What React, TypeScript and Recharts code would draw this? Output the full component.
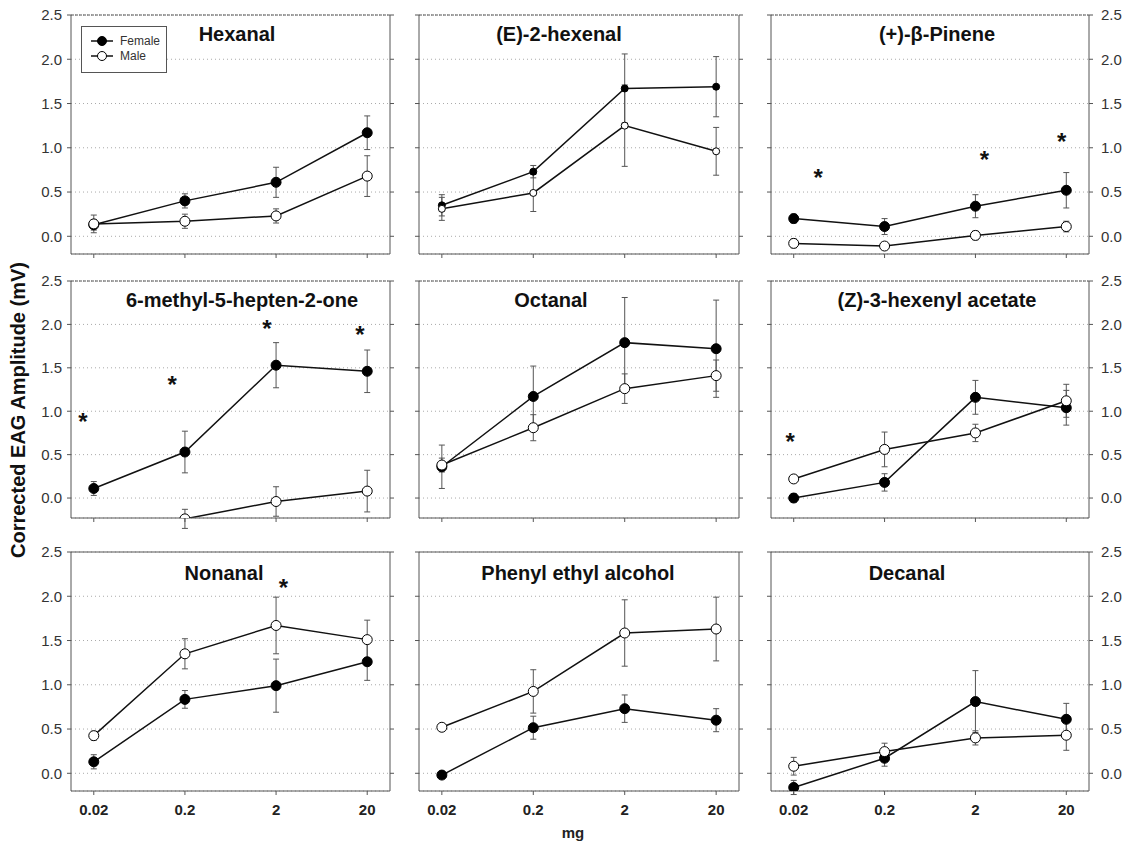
import React from "react";
import { ComposedChart, Line, ErrorBar, XAxis, YAxis, CartesianGrid, ReferenceLine, Scatter } from "recharts";

const doses = ["0.02", "0.2", "2", "20"];
const yTicks = [0, 0.5, 1, 1.5, 2, 2.5];

// mean corrected EAG (mV) and SE, per compound, dose order as above
const hexanalFemale = [0.13, 0.40, 0.61, 1.17];
const hexanalFemaleSE = [0.06, 0.08, 0.17, 0.19];
const hexanalMale = [0.14, 0.17, 0.23, 0.68];
const hexanalMaleSE = [0.10, 0.08, 0.08, 0.23];

const hexenalFemale = [0.35, 0.73, 1.67, 1.69];
const hexenalFemaleSE = [0.12, 0.07, 0.39, 0.34];
const hexenalMale = [0.31, 0.49, 1.25, 0.96];
const hexenalMaleSE = [0.13, 0.21, 0.46, 0.27];

const pineneFemale = [0.20, 0.11, 0.34, 0.52];
const pineneFemaleSE = [0.05, 0.09, 0.13, 0.20];
const pineneMale = [-0.08, -0.11, 0.01, 0.11];
const pineneMaleSE = [0.05, 0.03, 0.05, 0.06];
const pineneStars = [{ x: 0.27, y: 0.71 }, { x: 2.1, y: 0.92 }, { x: 2.95, y: 1.12 }];

const methylFemale = [0.11, 0.53, 1.53, 1.46];
const methylFemaleSE = [0.08, 0.24, 0.26, 0.245];
const methylMale = [null, -0.24, -0.04, 0.08];
const methylMaleSE = [null, 0.11, 0.17, 0.24];
const methylStars = [{ x: -0.12, y: 0.93 }, { x: 0.86, y: 1.36 }, { x: 1.9, y: 2.01 }, { x: 2.92, y: 1.94 }];

const octanalFemale = [0.36, 1.17, 1.79, 1.72];
const octanalFemaleSE = [0.25, 0.35, 0.52, 0.56];
const octanalMale = [0.38, 0.81, 1.26, 1.41];
const octanalMaleSE = [0.08, 0.15, 0.17, 0.18];

const hexenylFemale = [0.0, 0.18, 1.16, 1.04];
const hexenylFemaleSE = [0.05, 0.10, 0.195, 0.20];
const hexenylMale = [0.22, 0.56, 0.75, 1.12];
const hexenylMaleSE = [0.03, 0.20, 0.10, 0.19];
const hexenylStars = [{ x: -0.04, y: 0.70 }];

const nonanalFemale = [0.13, 0.835, 0.99, 1.26];
const nonanalFemaleSE = [0.08, 0.10, 0.30, 0.21];
const nonanalMale = [0.425, 1.35, 1.67, 1.51];
const nonanalMaleSE = [0.05, 0.17, 0.32, 0.22];
const nonanalStars = [{ x: 2.08, y: 2.15 }];

const pheFemale = [-0.02, 0.515, 0.73, 0.60];
const pheFemaleSE = [0.03, 0.13, 0.155, 0.13];
const pheMale = [0.52, 0.925, 1.585, 1.63];
const pheMaleSE = [0.02, 0.245, 0.375, 0.36];

const decanalFemale = [-0.16, 0.17, 0.81, 0.61];
const decanalFemaleSE = [0.08, 0.09, 0.35, 0.18];
const decanalMale = [0.08, 0.245, 0.40, 0.43];
const decanalMaleSE = [0.10, 0.095, 0.08, 0.17];

const panels = [
  { title: "Hexanal", f: hexanalFemale, fe: hexanalFemaleSE, m: hexanalMale, me: hexanalMaleSE, stars: [] },
  { title: "(E)-2-hexenal", f: hexenalFemale, fe: hexenalFemaleSE, m: hexenalMale, me: hexenalMaleSE, stars: [], small: true },
  { title: "(+)-β-Pinene", f: pineneFemale, fe: pineneFemaleSE, m: pineneMale, me: pineneMaleSE, stars: pineneStars },
  { title: "6-methyl-5-hepten-2-one", f: methylFemale, fe: methylFemaleSE, m: methylMale, me: methylMaleSE, stars: methylStars },
  { title: "Octanal", f: octanalFemale, fe: octanalFemaleSE, m: octanalMale, me: octanalMaleSE, stars: [] },
  { title: "(Z)-3-hexenyl acetate", f: hexenylFemale, fe: hexenylFemaleSE, m: hexenylMale, me: hexenylMaleSE, stars: hexenylStars },
  { title: "Nonanal", f: nonanalFemale, fe: nonanalFemaleSE, m: nonanalMale, me: nonanalMaleSE, stars: nonanalStars },
  { title: "Phenyl ethyl alcohol", f: pheFemale, fe: pheFemaleSE, m: pheMale, me: pheMaleSE, stars: [] },
  { title: "Decanal", f: decanalFemale, fe: decanalFemaleSE, m: decanalMale, me: decanalMaleSE, stars: [] },
];

// layout (pixel positions of each plot area)
const COLS = [{ x: 71, w: 319 }, { x: 419, w: 320 }, { x: 771, w: 318 }];
const ROWS = [{ y: 15, h: 239, min: -0.2 }, { y: 281, h: 237, min: -0.23 }, { y: 552, h: 239, min: -0.2 }];
const TITLE_CX = [237, 559, 937, 242, 551, 937, 224, 578, 907];
const YL = 50, YR = 50, MT = 10, XB = 40;
const FONT = "'Liberation Sans', Arial, sans-serif";
const AX = "#555";

const Empty = () => <g />;

const Star = (p: any) => (
  <text x={p.cx} y={p.cy + 13} textAnchor="middle" fontSize={24} fontWeight="bold" fill="#111" fontFamily={FONT}>*</text>
);

function Panel({ idx }: { idx: number }) {
  const p = panels[idx];
  const row = Math.floor(idx / 3), col = idx % 3;
  const R = ROWS[row], C = COLS[col];
  const data = doses.map((d, i) => ({ x: i, f: p.f[i], fe: p.fe[i], m: p.m[i], me: p.me[i] }));
  const r = p.small ? 3.5 : 5;
  const tickFont = { fontSize: 15, fill: "#333", fontFamily: FONT };
  return (
    <div style={{ position: "absolute", left: C.x - YL, top: R.y - MT }}>
      <ComposedChart width={YL + C.w + YR} height={MT + R.h + XB} data={data} margin={{ top: MT, right: 0, bottom: 0, left: 0 }}>
        <CartesianGrid yAxisId="l" vertical={false} stroke="#aaa" strokeDasharray="1 3" />
        <XAxis
          type="number" dataKey="x" domain={[-0.25, 3.25]} ticks={[0, 1, 2, 3]} allowDataOverflow interval={0}
          tickFormatter={(i) => doses[i]} height={XB} tickSize={4} tickMargin={9}
          axisLine={{ stroke: AX }} tickLine={{ stroke: AX }}
          tick={row === 2 ? { fontSize: 15, fill: "#222", fontWeight: "bold", fontFamily: FONT } : <Empty />}
        />
        <YAxis
          yAxisId="l" type="number" domain={[R.min, 2.5]} ticks={yTicks} allowDataOverflow width={YL}
          tickFormatter={(v) => v.toFixed(1)} tickSize={4} tickMargin={5}
          axisLine={{ stroke: AX }} tickLine={{ stroke: AX }}
          tick={col === 0 ? tickFont : <Empty />}
        />
        <YAxis
          yAxisId="r" orientation="right" type="number" domain={[R.min, 2.5]} ticks={yTicks} allowDataOverflow width={YR}
          tickFormatter={(v) => v.toFixed(1)} tickSize={4} tickMargin={8}
          axisLine={{ stroke: AX }} tickLine={{ stroke: AX }}
          tick={col === 2 ? { ...tickFont, textAnchor: "start" } : <Empty />}
        />
        <ReferenceLine yAxisId="l" y={2.5} stroke={AX} strokeDasharray={row < 2 ? "3 1" : undefined} />
        <Line yAxisId="l" dataKey="f" stroke="#111" strokeWidth={1.5} isAnimationActive={false}
          dot={{ r, fill: "#000", stroke: "#000", strokeWidth: 1 }} activeDot={false}>
          <ErrorBar dataKey="fe" direction="y" width={3} stroke="#555" strokeWidth={1} />
        </Line>
        <Line yAxisId="l" dataKey="m" stroke="#111" strokeWidth={1.5} isAnimationActive={false}
          dot={{ r, fill: "#fff", stroke: "#000", strokeWidth: 1 }} activeDot={false}>
          <ErrorBar dataKey="me" direction="y" width={3} stroke="#555" strokeWidth={1} />
        </Line>
        {p.stars.length > 0 && (
          <Scatter yAxisId="l" data={p.stars} dataKey="y" shape={Star} isAnimationActive={false} />
        )}
      </ComposedChart>
      <div style={{
        position: "absolute", left: TITLE_CX[idx] - C.x + YL - 150, width: 300, top: MT + (row === 2 ? 11 : 9),
        textAlign: "center", fontSize: 20, lineHeight: "20px", fontWeight: "bold", fontFamily: FONT, color: "#111",
      }}>{p.title}</div>
    </div>
  );
}

function LegendBox() {
  return (
    <svg style={{ position: "absolute", left: 81, top: 26 }} width={86} height={47}>
      <rect x={0.5} y={0.5} width={85} height={46} fill="#fff" stroke="#555" />
      <line x1={10} y1={15} x2={32} y2={15} stroke="#111" strokeWidth={1.5} />
      <circle cx={21} cy={15} r={4.5} fill="#000" stroke="#000" />
      <text x={39} y={19} fontSize={12} fill="#333" fontFamily={FONT}>Female</text>
      <line x1={10} y1={30} x2={32} y2={30} stroke="#111" strokeWidth={1.5} />
      <circle cx={21} cy={30} r={4.5} fill="#fff" stroke="#000" />
      <text x={39} y={34} fontSize={12} fill="#333" fontFamily={FONT}>Male</text>
    </svg>
  );
}

export default function App() {
  return (
    <div style={{ position: "absolute", left: 0, top: 0, width: 1137, height: 843, background: "#fff", fontFamily: FONT }}>
      {panels.map((_, i) => <Panel key={i} idx={i} />)}
      <LegendBox />
      <div style={{
        position: "absolute", left: 18 - 200, top: 410 - 12, width: 400, height: 24, lineHeight: "24px",
        textAlign: "center", transform: "rotate(-90deg)", fontSize: 20, fontWeight: "bold", color: "#111",
      }}>Corrected EAG Amplitude (mV)</div>
      <div style={{
        position: "absolute", left: 573 - 40, top: 824, width: 80, textAlign: "center",
        fontSize: 15, lineHeight: "18px", fontWeight: "bold", color: "#222",
      }}>mg</div>
    </div>
  );
}
